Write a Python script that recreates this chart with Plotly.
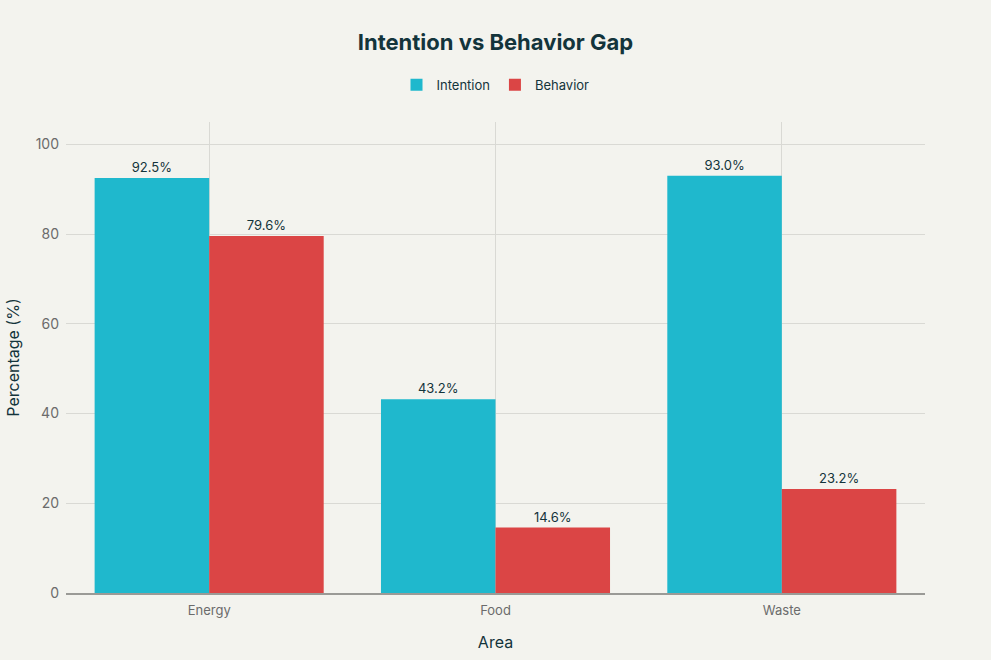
import plotly.graph_objects as go

areas = ["Energy", "Food", "Waste"]
intention = [92.5, 43.2, 93.0]
behavior = [79.6, 14.6, 23.2]

fig = go.Figure()
fig.add_trace(go.Bar(name="Intention", x=areas, y=intention, marker_color="#1FB8CD",
                     marker_line_width=0,
                     text=[f"{v:.1f}%" for v in intention], textposition="outside",
                     textfont=dict(size=13, color="#13343B"), cliponaxis=False))
fig.add_trace(go.Bar(name="Behavior", x=areas, y=behavior, marker_color="#DB4545",
                     marker_line_width=0,
                     text=[f"{v:.1f}%" for v in behavior], textposition="outside",
                     textfont=dict(size=13, color="#13343B"), cliponaxis=False))

fig.update_layout(
    width=991, height=660,
    barmode="group", bargap=0.2, bargroupgap=0,
    paper_bgcolor="#F3F3EE", plot_bgcolor="#F3F3EE",
    font=dict(family="Inter, sans-serif", color="#13343B", size=13),
    title=dict(text="<b>Intention vs Behavior Gap</b>", x=0.5, xanchor="center", y=0.936, yanchor="middle",
               font=dict(size=22, color="#13343B")),
    legend=dict(orientation="h", x=0.5, xanchor="center", y=1.079, yanchor="middle",
                font=dict(size=13, color="#13343B"), bgcolor="rgba(0,0,0,0)"),
    margin=dict(l=66, r=66, t=122, b=67),
    xaxis=dict(title=dict(text="Area", font=dict(size=16, color="#13343B"), standoff=20),
               automargin=False,
               showgrid=True, gridcolor="#D9D9D4", tickfont=dict(color="#6b6b6b", size=13),
               showline=True, linecolor="#9a9a96", linewidth=2, ticks="", ticklabelstandoff=4),
    yaxis=dict(title=dict(text="Percentage (%)", font=dict(size=16, color="#13343B"), standoff=12),
               automargin=False,
               range=[0, 105], tickvals=[0, 20, 40, 60, 80, 100],
               showgrid=True, gridcolor="#D9D9D4", zeroline=False,
               tickfont=dict(color="#6b6b6b", size=14), ticklabelstandoff=6),
)
fig.write_html("out.html", config={"displayModeBar": False},
               post_script="document.body.style.margin='0';document.body.style.background='#F3F3EE';")
